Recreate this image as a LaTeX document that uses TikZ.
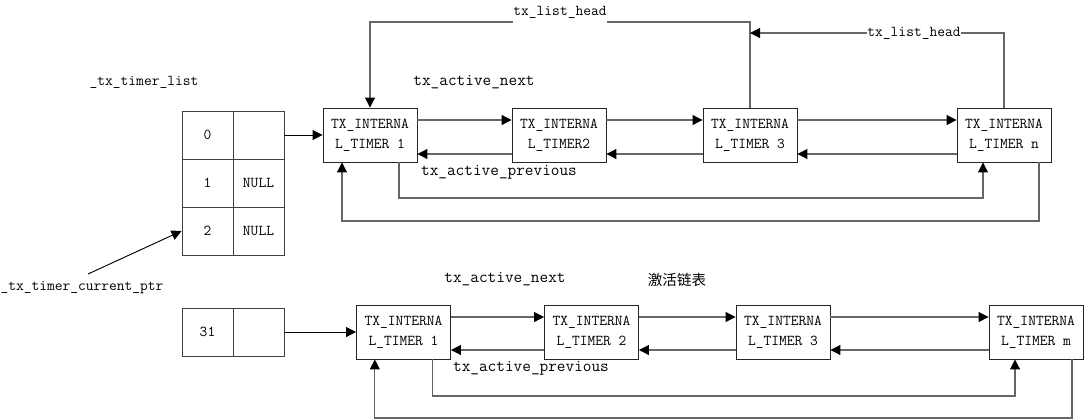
\documentclass[tikz,border=0pt]{standalone}
\usepackage{fontspec}
\newfontfamily\cjk{Noto Sans CJK SC}
\usetikzlibrary{arrows.meta}

\tikzset{
	timer/.style={draw=black!85, line width=0.7pt, minimum width=70.5pt, minimum height=40.5pt, inner sep=0pt, align=center, font=\ttfamily\fontsize{11.3pt}{15pt}\selectfont},
	cell/.style={draw=black!75, line width=0.7pt, minimum width=38.25pt, minimum height=36pt, inner sep=0pt, font=\ttfamily\fontsize{11.3pt}{13pt}\selectfont},
	lbl/.style={inner sep=0pt, font=\ttfamily\fontsize{11.3pt}{13pt}\selectfont},
	biglbl/.style={inner sep=0pt, font=\ttfamily\fontsize{12.6pt}{14pt}\selectfont},
	wire/.style={draw=black!60, line width=0.8pt},
	ptrline/.style={draw=black, line width=0.7pt},
	pointy/.style={-{Triangle[length=7.5pt,width=7.5pt,black]}},
}

\begin{document}
\begin{tikzpicture}[x=0.75pt,y=-0.75pt]
	\useasboundingbox (0,0) rectangle (1084,419);

	% _tx_timer_list
	\node[lbl] (tlist) at (144,82) {\_tx\_timer\_list};
	\node[cell] (idx0) at (207.5,135) {0};
	\node[cell] (ptr0) at (258.5,135) {};
	\node[cell] (idx1) at (207.5,183) {1};
	\node[cell] (ptr1) at (258.5,183) {NULL};
	\node[cell] (idx2) at (207.5,231) {2};
	\node[cell] (ptr2) at (258.5,231) {NULL};

	\node[lbl] (curptr) at (82,288) {\_tx\_timer\_current\_ptr};
	\coordinate (ptrtail) at (88,274);
	\draw[ptrline,pointy] (ptrtail) -- (idx2.west);

	\node[cell] (idx31) at (207.5,332) {31};
	\node[cell] (ptr31) at (258.5,332) {};

	% list 0
	\node[timer] (t1) at (370,135) {TX\_INTERNA\\L\_TIMER 1};
	\node[timer] (t2) at (559,135) {TX\_INTERNA\\L\_TIMER2};
	\node[timer] (t3) at (750,135) {TX\_INTERNA\\L\_TIMER 3};
	\node[timer] (tn) at (1004,135) {TX\_INTERNA\\L\_TIMER n};

	\draw[ptrline,pointy] (ptr0.east) -- (t1.west);
	% -
	\draw[wire,pointy] ([yshift=11.25pt]t1.east) -- ([yshift=11.25pt]t2.west);
	\draw[wire,pointy] ([yshift=11.25pt]t2.east) -- ([yshift=11.25pt]t3.west);
	\draw[wire,pointy] ([yshift=11.25pt]t3.east) -- ([yshift=11.25pt]tn.west);
	\draw[wire,pointy] ([yshift=-14.25pt]t2.west) -- ([yshift=-14.25pt]t1.east);
	\draw[wire,pointy] ([yshift=-14.25pt]t3.west) -- ([yshift=-14.25pt]t2.east);
	\draw[wire,pointy] ([yshift=-14.25pt]tn.west) -- ([yshift=-14.25pt]t3.east);
	% |
	\coordinate (loopa) at (700,198);
	\coordinate (loopb) at (700,221);
	\draw[wire,pointy] ([xshift=21.75pt]t1.south) |- (loopa) -| ([xshift=-15.75pt]tn.south);
	\draw[wire,pointy] ([xshift=26.25pt]tn.south) |- (loopb) -| ([xshift=-21pt]t1.south);

	% head
	\node[lbl] (lhead1) at (560,12) {tx\_list\_head};
	\node[lbl] (lhead2) at (914,33) {tx\_list\_head};
	\coordinate (topwire) at (0,22);
	\draw[wire] (t3.north) |- (lhead1.east |- topwire);
	\draw[wire,pointy] (lhead1.west |- topwire) -| (t1.north);
	\draw[wire] (tn.north) |- (lhead2.east);
	\draw[wire,pointy] (lhead2.west) -- (t3.north |- lhead2.west);

	% label
	\node[biglbl] (nxt1) at (474,82) {tx\_active\_next};
	\node[biglbl] (prv1) at (499,172) {tx\_active\_previous};

	% list 31
	\node[timer] (b1) at (403.5,332) {TX\_INTERNA\\L\_TIMER 1};
	\node[timer] (b2) at (591.5,332) {TX\_INTERNA\\L\_TIMER 2};
	\node[timer] (b3) at (783,332) {TX\_INTERNA\\L\_TIMER 3};
	\node[timer] (bm) at (1036,332) {TX\_INTERNA\\L\_TIMER m};

	\draw[ptrline,pointy] (ptr31.east) -- (b1.west);
	% -
	\draw[wire,pointy] ([yshift=11.25pt]b1.east) -- ([yshift=11.25pt]b2.west);
	\draw[wire,pointy] ([yshift=11.25pt]b2.east) -- ([yshift=11.25pt]b3.west);
	\draw[wire,pointy] ([yshift=11.25pt]b3.east) -- ([yshift=11.25pt]bm.west);
	\draw[wire,pointy] ([yshift=-13.5pt]b2.west) -- ([yshift=-13.5pt]b1.east);
	\draw[wire,pointy] ([yshift=-13.5pt]b3.west) -- ([yshift=-13.5pt]b2.east);
	\draw[wire,pointy] ([yshift=-13.5pt]bm.west) -- ([yshift=-13.5pt]b3.east);
	% |
	\coordinate (loopc) at (700,396);
	\coordinate (loopd) at (700,418);
	\draw[wire,pointy] ([xshift=21.5pt]b1.south) |- (loopc) -| ([xshift=-15.75pt]bm.south);
	\draw[wire,pointy] ([xshift=27pt]bm.south) |- (loopd) -| ([xshift=-21.5pt]b1.south);

	% label
	\node[biglbl] (nxt2) at (505,279) {tx\_active\_next};
	\node[biglbl] (prv2) at (531,368) {tx\_active\_previous};
	\node[inner sep=0pt, font=\cjk\fontsize{10.9pt}{13pt}\selectfont] (active) at (677,280) {激活链表};
\end{tikzpicture}
\end{document}
